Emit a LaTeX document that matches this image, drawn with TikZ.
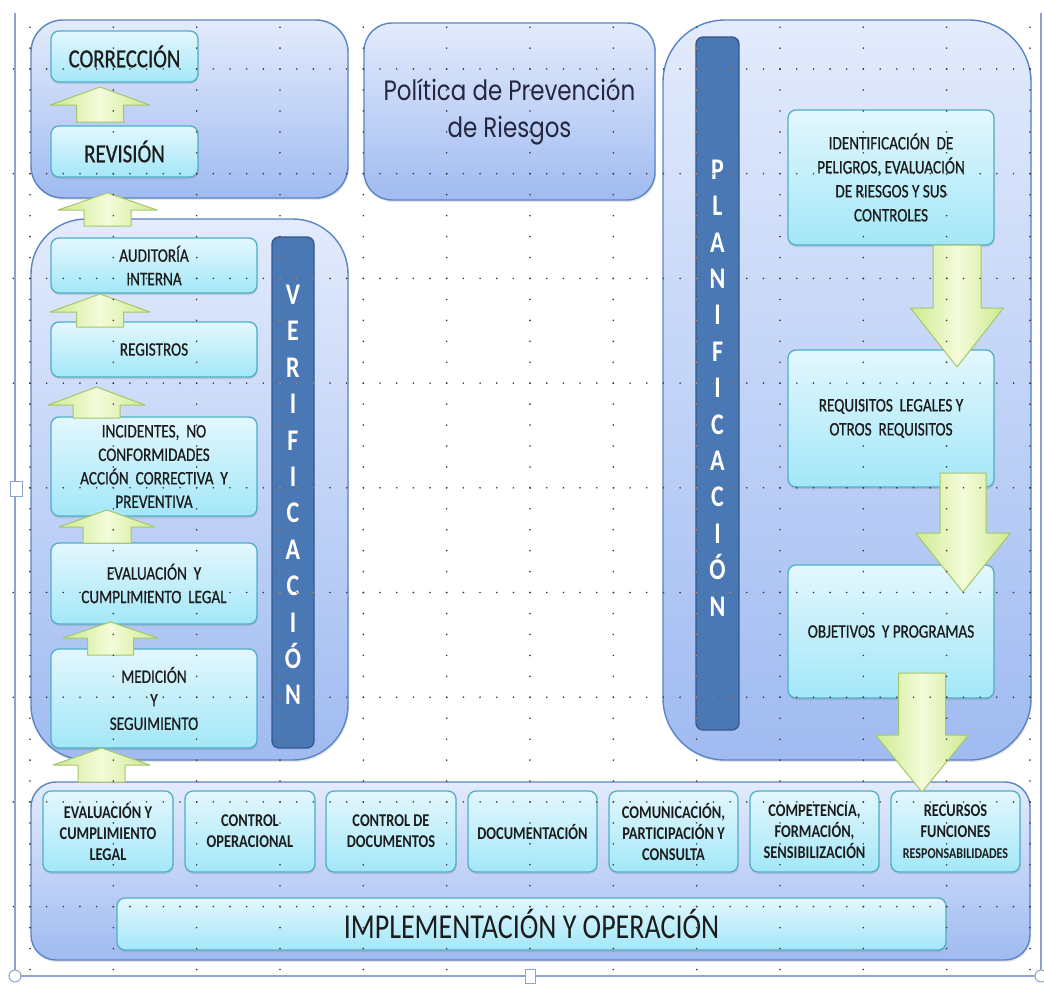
\documentclass[tikz,border=0pt]{standalone}
\usepackage{fontspec}
\setmainfont{Carlito}
\newfontfamily\carl{Carlito}[FakeStretch=0.8]
\newfontfamily\carlm{Carlito}[FakeStretch=0.8,FakeBold=0.7]
\newfontfamily\popf{Poppins}[FakeStretch=0.82]
\usetikzlibrary{shadows}
\definecolor{contTop}{HTML}{E3EBFC}
\definecolor{contBot}{HTML}{A0BBF1}
\definecolor{contLine}{HTML}{5A85C4}
\definecolor{boxTop}{HTML}{E3F7FD}
\definecolor{boxBot}{HTML}{A3E7F8}
\definecolor{boxLine}{HTML}{4FAFC8}
\definecolor{barFill}{HTML}{4A78B4}
\definecolor{barLine}{HTML}{35598A}
\definecolor{arrLight}{HTML}{F4FBDA}
\definecolor{arrDark}{HTML}{CDEA8E}
\definecolor{arrLine}{HTML}{A5C66C}
\definecolor{txt}{HTML}{1C1C1C}
\definecolor{polText}{HTML}{262640}
\definecolor{frameLine}{HTML}{8AA6CE}
\definecolor{dotc}{HTML}{3A3A3A}
\definecolor{dotor}{HTML}{C88A50}
\newcommand{\fBig}{\carlm\fontsize{26}{30}\selectfont}
\newcommand{\fSm}{\carlm\fontsize{19}{23.5}\selectfont}
\newcommand{\fPl}{\carlm\fontsize{19}{24}\selectfont}
\newcommand{\fBot}{\carl\bfseries\fontsize{18}{21}\selectfont}
\newcommand{\fTiny}{\carl\bfseries\fontsize{15}{21}\selectfont}
\newcommand{\fImp}{\carl\fontsize{35}{40}\selectfont}
\newcommand{\fPol}{\popf\fontsize{28}{37}\selectfont}
\newcommand{\fBar}{\carl\bfseries\fontsize{30}{36.4}\selectfont}
\newcommand{\bx}[7]{\node[#6, minimum width={#4-#2}, minimum height={#5-#3}] (#1) at ({(#2+#4)/2},{(#3+#5)/2}) {#7};}
\newcommand{\blockArr}[6]{\draw[blockarr] (#1,#2) -- ({#1+#3},#4) -- ({#1+#5},#4) -- ({#1+#5},#6) -- ({#1-#5},#6) -- ({#1-#5},#4) -- ({#1-#3},#4) -- cycle;}
\newcommand{\allDots}[1]{%
  \foreach \i in {0,...,12} {\foreach \j in {0,...,45} {\fill[#1] ({30+83.33*\i},{27.2+20.94*\j}) circle[radius=0.9pt];}}%
  \foreach \j in {0,...,8} {\foreach \i in {0,...,61} {\fill[#1] ({13.3+16.67*\i},{69+104.7*\j}) circle[radius=0.9pt];}}%
}
\begin{document}
\begin{tikzpicture}[x=1pt,y=-1pt,
  cont/.style={draw=contLine, line width=1.4pt, top color=contTop, bottom color=contBot, inner sep=0pt,
     drop shadow={opacity=0.2, shadow xshift=1pt, shadow yshift=-2pt}},
  cbox/.style={draw=boxLine, line width=1.3pt, rounded corners=8pt, top color=boxTop, bottom color=boxBot,
     align=center, text=txt, inner sep=0pt, drop shadow={opacity=0.25, shadow xshift=0.5pt, shadow yshift=-2pt}},
  bar/.style={draw=barLine, line width=1.3pt, fill=barFill, rounded corners=7pt, inner sep=0pt},
  bartext/.style={text=white, align=center, font=\fBar, inner sep=0pt},
  blockarr/.style={draw=arrLine, line width=1pt, left color=arrDark, right color=arrDark, middle color=arrLight, line join=round},
  frameln/.style={draw=frameLine, line width=2pt},
  handle/.style={draw=frameLine, line width=1pt, fill=white}
]
\useasboundingbox (0,0) rectangle (1044,983);
\fill[white] (0,0) rectangle (1044,983);

% containers
\bx{topgrp}{31}{20}{348}{198}{cont, rounded corners=32pt}{}
\bx{vergrp}{31}{219}{348}{760}{cont, rounded corners=55pt}{}
\bx{polgrp}{364}{23}{655}{200}{cont, rounded corners=28pt, font=\fPol, text=polText, align=center}{Política de Prevención\\de Riesgos}
\bx{plangrp}{663}{20}{1031}{760}{cont, rounded corners=62pt}{}
\bx{impgrp}{31}{782}{1030}{960}{cont, rounded corners=25pt}{}

% bars
\bx{vbar}{272}{237}{314}{748}{bar}{}
\bx{pbar}{696}{37}{739}{730}{bar}{}
\node[bartext] (vtxt) at (293,495) {V\\E\\R\\I\\F\\I\\C\\A\\C\\I\\Ó\\N};
\node[bartext] (ptxt) at (717.5,388) {P\\L\\A\\N\\I\\F\\I\\C\\A\\C\\I\\Ó\\N};

% left column
\bx{corr}{51}{31}{198}{82}{cbox, font=\fBig}{CORRECCIÓN}
\bx{rev}{51}{126}{198}{177}{cbox, font=\fBig}{REVISIÓN}
\bx{aud}{51}{238}{257}{293}{cbox, font=\fSm}{AUDITORÍA\\INTERNA}
\bx{reg}{51}{322}{257}{377}{cbox, font=\fSm}{REGISTROS}
\bx{inc}{51}{417}{257}{516}{cbox, font=\fSm}{INCIDENTES,\ \ NO\\CONFORMIDADES\\ACCIÓN\ \ CORRECTIVA\ \ Y\\PREVENTIVA}
\bx{evl}{51}{543}{257}{624}{cbox, font=\fSm}{EVALUACIÓN\ \ Y\\CUMPLIMIENTO\ \ LEGAL}
\bx{med}{51}{649}{257}{748}{cbox, font=\fSm}{MEDICIÓN\\Y\\SEGUIMIENTO}

% planning
\bx{ident}{788}{110}{994}{245}{cbox, font=\fPl}{IDENTIFICACIÓN\ \ DE\\PELIGROS, EVALUACIÓN\\DE RIESGOS Y SUS\\CONTROLES}
\bx{requ}{788}{350}{994}{487}{cbox, font=\fPl}{REQUISITOS\ \ LEGALES Y\\OTROS\ \ REQUISITOS}
\bx{obj}{788}{565}{994}{698}{cbox, font=\fPl}{OBJETIVOS\ \ Y PROGRAMAS}

% implementation
\bx{b1}{43}{791}{173}{872}{cbox, font=\fBot}{EVALUACIÓN Y\\CUMPLIMIENTO\\LEGAL}
\bx{b2}{185}{791}{315}{872}{cbox, font=\fBot}{CONTROL\\OPERACIONAL}
\bx{b3}{326}{791}{456}{872}{cbox, font=\fBot}{CONTROL DE\\DOCUMENTOS}
\bx{b4}{468}{791}{597}{872}{cbox, font=\fBot}{DOCUMENTACIÓN}
\bx{b5}{609}{791}{738}{872}{cbox, font=\fBot}{COMUNICACIÓN,\\PARTICIPACIÓN Y\\CONSULTA}
\bx{b6}{750}{791}{879}{872}{cbox, font=\fBot}{COMPETENCIA,\\FORMACIÓN,\\SENSIBILIZACIÓN}
\bx{b7}{891}{791}{1020}{872}{cbox, font=\fBot}{RECURSOS\\FUNCIONES\\{\fTiny RESPONSABILIDADES}}
\bx{imp}{117}{898}{946}{950}{cbox, font=\fImp}{IMPLEMENTACIÓN Y OPERACIÓN}

% block arrows
\blockArr{100}{87}{49.5}{105}{23.5}{122}
\blockArr{107.5}{193}{49.5}{210}{23.5}{226}
\blockArr{100}{294}{50}{312}{23.5}{327}
\blockArr{96.5}{387}{48.5}{405}{23.5}{418}
\blockArr{107}{510}{48}{527}{24}{543}
\blockArr{110.5}{622}{47.5}{638}{23}{655}
\blockArr{101.5}{748}{48.5}{765}{23.5}{782}
\blockArr{957}{367}{46.5}{308}{24}{245}
\blockArr{963}{592}{47.5}{533}{23}{473}
\blockArr{922}{792}{46.5}{735}{23.5}{673}

% grid dots
\allDots{dotc}
\begin{scope}
  \clip (272,237) rectangle (314,748) (696,37) rectangle (739,730);
  \allDots{dotor}
\end{scope}

% frame of the canvas
\coordinate (ftl) at (15,13);
\coordinate (fbl) at (15,976);
\coordinate (fbr) at (1041,976);
\coordinate (ftr) at (1041,13);
\draw[frameln] (ftl) -- (fbl) -- (fbr) -- (ftr);
\node[handle, circle, minimum size=12pt, inner sep=0pt] (hbl) at (fbl) {};
\node[handle, circle, minimum size=12pt, inner sep=0pt] (hbr) at (fbr) {};
\node[handle, rectangle, minimum width=10pt, minimum height=14pt, inner sep=0pt] (hbm) at (530,976) {};
\node[handle, rectangle, minimum width=12pt, minimum height=15pt, inner sep=0pt] (hlm) at (16,489) {};
\end{tikzpicture}
\end{document}
